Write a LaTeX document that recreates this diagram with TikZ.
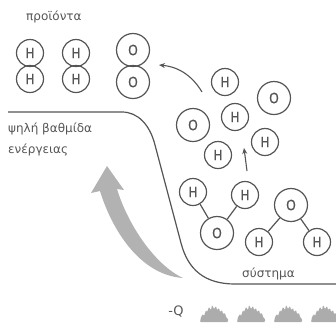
\documentclass[tikz,border=0pt]{standalone}
\usepackage{fontspec}
\setmainfont{DejaVu Sans}
\newfontfamily\atomfont[FakeStretch=0.8,FakeBold=0.6]{Liberation Sans}
\usetikzlibrary{arrows.meta}
\definecolor{ink}{HTML}{555555}
\definecolor{arrowgray}{HTML}{B2B2B2}
\definecolor{fire}{HTML}{ACACAC}
\tikzset{
  atom/.style={circle, draw=ink, line width=1.2pt, inner sep=0pt, text=ink,
    font=\atomfont\fontsize{15}{15}\selectfont},
  hyd/.style={atom, minimum size=27pt},
  oxy/.style={atom, minimum size=33pt},
  bond/.style={draw=ink, line width=1.2pt},
  level/.style={draw=ink, line width=1.2pt},
  label/.style={text=ink, font=\fontsize{12}{14}\selectfont, inner sep=0pt, anchor=west},
  thinarrow/.style={draw=ink, line width=1.1pt, -{Stealth[length=6pt,width=5pt]}},
  flame/.pic={
    \fill[fire, rounded corners=0.8pt] (-14,0) -- (-13,-5) -- (-11,-8) -- (-10,-6)
      -- (-8,-12) -- (-7,-10) -- (-5,-15) -- (-3,-12) -- (-2,-17) -- (0,-13)
      -- (2,-16) -- (3,-12) -- (5,-14) -- (6,-10) -- (8,-12) -- (9,-8) -- (11,-9)
      -- (12,-5) -- (14,-3) -- (14,0) -- cycle;
  }
}
\begin{document}
\begin{tikzpicture}[x=1pt,y=-1pt]
\useasboundingbox (0,0) rectangle (336,322);

% products
\node[label] (prod) at (26,17) {προϊόντα};
\node[hyd] (pa1) at (30,53) {H};
\node[hyd] (pa2) at (30,79) {H};
\node[hyd] (pb1) at (76,53) {H};
\node[hyd] (pb2) at (76,79) {H};
\node[oxy] (po1) at (133,50) {O};
\node[oxy] (po2) at (133,82) {O};

% energy levels
\coordinate (hiL) at (8,112);
\coordinate (loR) at (336,284);
\draw[level] (hiL) -- (122,112) .. controls (138,112) and (150,125) .. (155,145)
  -- (181,243) .. controls (188,270) and (205,284) .. (235,284) -- (loR);
\node[label] (high1) at (8,129) {ψηλή βαθμίδα};
\node[label] (high2) at (8,150) {ενέργειας};
\node[label] (sys) at (242,274) {σύστημα};

% wide shaded arrow (energy supplied)
\fill[arrowgray] (107,166) -- (124,190) -- (117,189)
  .. controls (128,225) and (155,265) .. (183,278)
  .. controls (140,275) and (112,230) .. (100,191) -- (91,193) -- cycle;

% free atoms
\node[hyd] (fh1) at (225,82) {H};
\node[oxy] (fo1) at (274,98) {O};
\node[oxy] (fo2) at (193,125) {O};
\node[hyd] (fh2) at (235,117) {H};
\node[hyd] (fh3) at (218,155) {H};
\node[hyd] (fh4) at (265,142) {H};

% water molecules
\node[oxy] (wo1) at (217,233) {O};
\node[hyd] (wh1) at (193,192) {H};
\node[hyd] (wh2) at (245,195) {H};
\draw[bond] (wh1) -- (wo1);
\draw[bond] (wh2) -- (wo1);
\node[oxy] (wo2) at (291,205) {O};
\node[hyd] (wh3) at (259,242) {H};
\node[hyd] (wh4) at (317,242) {H};
\draw[bond] (wo2) -- (wh3);
\draw[bond] (wo2) -- (wh4);

% reaction arrows
\coordinate (upA) at (247,171);
\coordinate (upB) at (244,148);
\draw[thinarrow] (upA) -- (upB);
\coordinate (bkA) at (202,92);
\coordinate (bkB) at (159,65);
\draw[thinarrow] (bkA) .. controls (193,77) and (180,67) .. (bkB);

% heat released
\node[text=ink, font=\fontsize{13}{13}\selectfont, inner sep=0pt] (heat) at (176,312) {-Q};
\foreach \fx in {214,251,288,325} {
  \pic at (\fx,322) {flame};
}
\end{tikzpicture}
\end{document}
